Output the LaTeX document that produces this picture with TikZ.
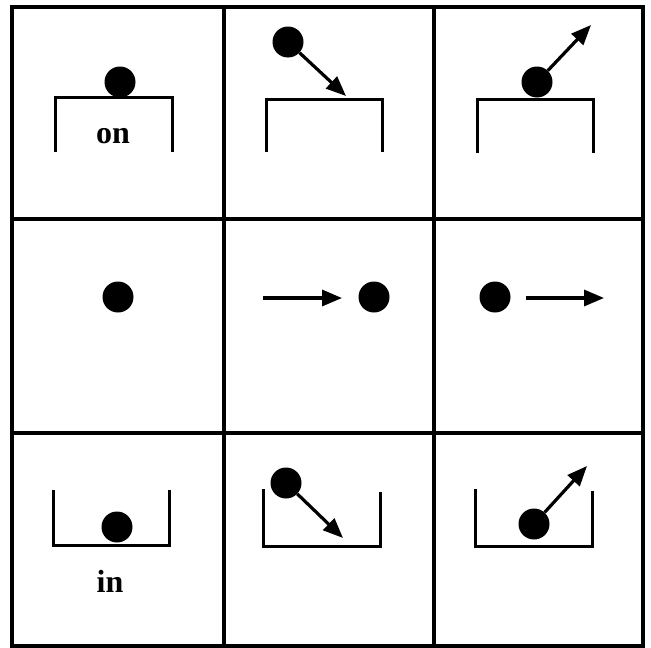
\documentclass[tikz,border=0pt]{standalone}
\usepackage{fontspec}
\setmainfont{Liberation Serif}
\usetikzlibrary{arrows.meta}
\begin{document}
\begin{tikzpicture}[x=1pt,y=-1pt,
  ball/.style={circle,fill=black,inner sep=0pt,minimum size=31pt},
  gridline/.style={line width=3.2pt},
  stand/.style={line width=3pt,line cap=butt,line join=miter},
  mover/.style={line width=3.2pt,-{Triangle[length=20pt,width=16pt]}},
  lbl/.style={font=\bfseries\fontsize{32}{32}\selectfont,inner sep=0pt}]
\useasboundingbox (0,0) rectangle (651,648);
\fill[white] (0,0) rectangle (651,648);
% grid
\draw[gridline] (12,7) rectangle (643,646);
\draw[gridline] (224,7) -- (224,646);
\draw[gridline] (434,7) -- (434,646);
\draw[gridline] (12,219) -- (643,219);
\draw[gridline] (12,433) -- (643,433);
% row 1
\draw[stand] (55,152) -- (55,97) -- (172,97) -- (172,152);
\node[ball] (b1) at (120,82) {};
\node[lbl] (on) at (113,136) {on};
\draw[stand] (266,152) -- (266,99) -- (382,99) -- (382,152);
\node[ball] (b2) at (288,42) {};
\coordinate (t2) at (346,96);
\draw[mover] (b2) -- (t2);
\draw[stand] (477,153) -- (477,99) -- (593,99) -- (593,153);
\node[ball] (b3) at (537,82) {};
\coordinate (t3) at (591,25);
\draw[mover] (b3) -- (t3);
% row 2
\node[ball] (b4) at (118,297) {};
\coordinate (s5) at (263,298);
\coordinate (t5) at (342,298);
\draw[mover] (s5) -- (t5);
\node[ball] (b5) at (374,297) {};
\node[ball] (b6) at (495,297) {};
\coordinate (s6) at (526,298);
\coordinate (t6) at (604,298);
\draw[mover] (s6) -- (t6);
% row 3
\draw[stand] (53,490) -- (53,545) -- (169,545) -- (169,490);
\node[ball] (b7) at (117,527) {};
\node[lbl] (in) at (110,581) {in};
\draw[stand] (263,489) -- (263,546) -- (380,546) -- (380,492);
\node[ball] (b8) at (286,483) {};
\coordinate (t8) at (343,538);
\draw[mover] (b8) -- (t8);
\draw[stand] (475,489) -- (475,546) -- (592,546) -- (592,491);
\node[ball] (b9) at (534,524) {};
\coordinate (t9) at (587,466);
\draw[mover] (b9) -- (t9);
\end{tikzpicture}
\end{document}
